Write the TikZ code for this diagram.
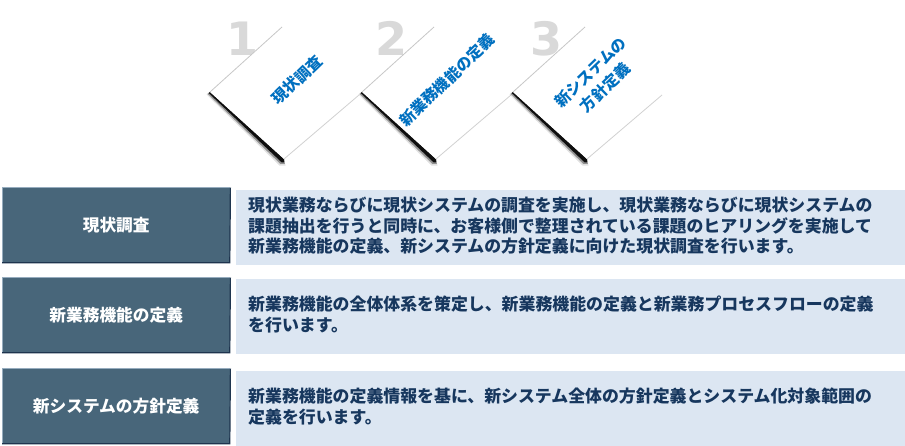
\documentclass[tikz,border=0pt]{standalone}
\usepackage{fontspec}
\usetikzlibrary{calc}
\newfontfamily\jp{Noto Sans CJK JP}
\newfontfamily\numfont{DejaVu Sans}
\definecolor{darkfill}{RGB}{72,102,122}
\definecolor{darkedge}{RGB}{30,52,78}
\definecolor{lightedge}{RGB}{150,172,190}
\definecolor{lightfill}{RGB}{220,230,242}
\definecolor{navytext}{RGB}{23,55,94}
\definecolor{cardblue}{RGB}{0,112,192}
\definecolor{digitgray}{RGB}{217,217,217}
\tikzset{
  darkbox/.style={fill=darkfill, draw=none, anchor=north west, minimum width=228pt, minimum height=76pt, inner sep=0pt, text=white, font=\jp\bfseries\fontsize{16.7}{20}\selectfont},
  lightbox/.style={fill=lightfill, draw=none, anchor=north west, minimum width=669pt, minimum height=75pt, inner sep=0pt},
  desc/.style={anchor=west, align=left, inner sep=0pt, text=navytext, font=\jp\bfseries\fontsize{16.9}{20.5}\selectfont},
  digit/.style={anchor=base, inner sep=0pt, text=digitgray, font=\numfont\bfseries\fontsize{46}{46}\selectfont},
  cardtext/.style={rotate=44, align=center, inner sep=0pt, text=cardblue, font=\jp\bfseries\fontsize{15.5}{21}\selectfont},
}
\begin{document}
\begin{tikzpicture}[x=1pt,y=-1pt]
\useasboundingbox (0,0) rectangle (905,445);
\fill[white] (0,0) rectangle (905,445);

% digits (behind cards)
\node[digit] (n1) at (242.5,55) {1};
\node[digit] (n2) at (391,55) {2};
\node[digit] (n3) at (546,55) {3};

% cards
\foreach \i/\dx/\txt/\tx in {1/0/{現状調査}/297, 2/152/{新業務機能の定義}/447, 3/303/{新システムの\\方針定義}/598}{
  \coordinate (L\i) at (210+\dx,92);
  \coordinate (T\i) at (282+\dx,27);
  \coordinate (R\i) at (359+\dx,95);
  \coordinate (B\i) at (284+\dx,159);
  \fill[black, opacity=0.12] (L\i) -- (B\i) -- ($(B\i)+(1.5,6.5)$) -- ($(B\i)+(-4.5,6.5)$) -- ($(L\i)+(-3.5,2.5)$) -- cycle;
  \fill[black, opacity=0.35] (L\i) -- (B\i) -- ($(B\i)+(0.8,4.8)$) -- ($(B\i)+(-3.5,5)$) -- ($(L\i)+(-2.5,1.8)$) -- cycle;
  \fill[black, opacity=0.9] (L\i) -- (B\i) -- ($(B\i)+(0.3,3.2)$) -- ($(B\i)+(-2.2,3.5)$) -- ($(L\i)+(-1.3,1)$) -- cycle;
  \fill[white] (L\i) -- (T\i) -- (R\i) -- (B\i) -- cycle;
  \draw[black!22, line width=0.8pt] (L\i) -- (T\i);
  \draw[black!18, line width=0.8pt] (B\i) -- (R\i);
  \node[cardtext] (c\i) at (\tx,80) {\txt};
}

% rows
\foreach \i/\ly/\txt in {
  1/190/{現状業務ならびに現状システムの調査を実施し、現状業務ならびに現状システムの\\課題抽出を行うと同時に、お客様側で整理されている課題のヒアリングを実施して\\新業務機能の定義、新システムの方針定義に向けた現状調査を行います。},
  2/279/{新業務機能の全体体系を策定し、新業務機能の定義と新業務プロセスフローの定義\\を行います。},
  3/371/{新業務機能の定義情報を基に、新システム全体の方針定義とシステム化対象範囲の\\定義を行います。}}{
  \node[lightbox] (l\i) at (236,\ly) {};
  \node[desc] (t\i) at ($(l\i.west)+(12,-2)$) {\txt};
}
\node[darkbox] (d1) at (2,187) {現状調査};
\node[darkbox] (d2) at (2,277) {新業務機能の定義};
\node[darkbox] (d3) at (2,368) {新システムの方針定義};
\foreach \i in {1,2,3}{
  \draw[lightedge, line width=1pt] ([xshift=0.5pt]d\i.south west) -- ([xshift=0.5pt,yshift=-0.5pt]d\i.north west) -- ([yshift=-0.5pt]d\i.north east);
  \draw[darkedge, line width=1.2pt] ([yshift=-0.6pt]d\i.north east) -- ([xshift=-0.6pt,yshift=0.6pt]d\i.south east) -- ([yshift=0.6pt]d\i.south west);
}
\end{tikzpicture}
\end{document}
